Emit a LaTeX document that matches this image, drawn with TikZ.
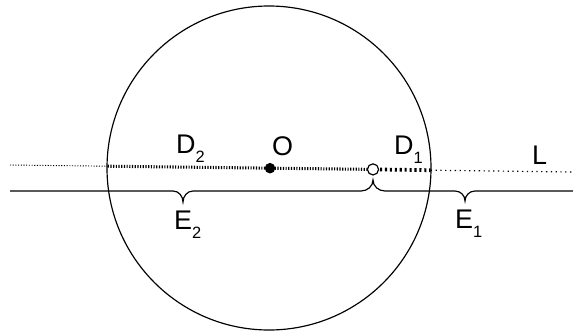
\documentclass[tikz,border=0pt]{standalone}
\usepackage{fontspec}
\setmainfont{Liberation Sans}
\usepackage{tikz}
\usetikzlibrary{calc}

\newcommand{\lsub}[1]{\raisebox{-8.5pt}{\fontsize{14}{14}\selectfont #1}}

\begin{document}
\begin{tikzpicture}[x=0.03cm, y=-0.03cm,
  lbl/.style={anchor=base west, inner sep=0pt, font=\fontsize{23}{27}\selectfont},
  farline/.style={line width=0.8pt, dash pattern=on 0.9pt off 1.4pt},
  nearline/.style={line width=2.6pt, dash pattern=on 1pt off 1.3pt},
  dashline/.style={line width=3.2pt, dash pattern=on 1.8pt off 2.4pt},
  outline/.style={line width=1pt, dash pattern=on 1.1pt off 3pt},
  dot/.style={circle, fill=black, inner sep=0pt, minimum size=9pt},
  hole/.style={circle, draw, fill=white, line width=1pt, inner sep=0pt, minimum size=9.5pt},
]
  \useasboundingbox (0,0) rectangle (573,334);

  % the ball and the line L
  \coordinate (ctr) at (269,168);
  \coordinate (Lw) at (10,165);
  \coordinate (Le) at (573,172);
  \coordinate (in2) at (107.7,166.2);
  \coordinate (in1) at (430.7,170.2);
  \coordinate (O) at (270,168.2);
  \coordinate (P) at (373,169.4);

  \draw[line width=1pt] (ctr) circle [radius=162];

  \draw[farline]  (Lw)  -- (in2);
  \draw[nearline] (in2) -- (P);
  \draw[dashline] ($(P)+(7,0.1)$) -- (in1);
  \draw[outline]  (in1) -- (Le);

  \node[dot]  (o) at (O) {};
  \node[hole] (p) at (P) {};

  % the two pieces E_2 and E_1
  \coordinate (Ew) at (10,191);
  \coordinate (Ee) at (573,191);
  \coordinate (E2tip) at (183,202);
  \coordinate (E1tip) at (465,201);
  \coordinate (Ej) at (373,180);
  \draw[line width=1pt] (Ew) -- (173,191) to[out=0,in=90] (E2tip)
    to[out=90,in=180] (193,191) -- (361,191) to[out=0,in=-90] (Ej)
    to[out=-90,in=180] (385,191) -- (455,191) to[out=0,in=90] (E1tip)
    to[out=90,in=180] (475,191) -- (Ee);

  % labels
  \node[lbl] (d2) at (176,153) {D\lsub{2}};
  \node[lbl] (oo) at (272,155) {O};
  \node[lbl] (d1) at (394,154) {D\lsub{1}};
  \node[lbl] (l)  at (532,164) {L};
  \node[lbl] (e2) at (174,229) {E\lsub{2}};
  \node[lbl] (e1) at (455,228) {E\lsub{1}};
\end{tikzpicture}
\end{document}
